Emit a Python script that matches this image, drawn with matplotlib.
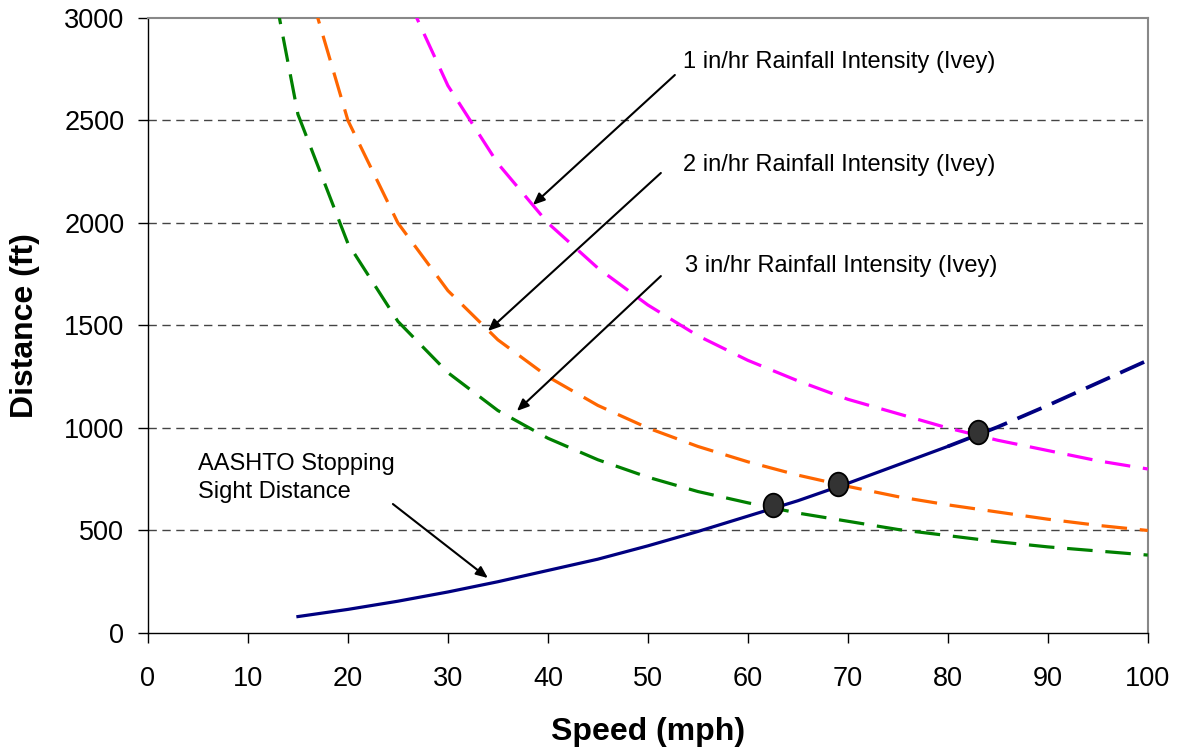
import matplotlib
matplotlib.use("Agg")
import matplotlib.pyplot as plt
from matplotlib.path import Path
from matplotlib.transforms import Affine2D

plt.rcParams["font.family"] = ["Liberation Sans", "DejaVu Sans"]

# Ivey hydroplaning distances, ft
SPEED_3IN = [10, 15, 20, 25, 30, 35, 40, 45, 50, 55, 60, 65, 70, 75, 80, 85, 90, 95, 100]
DIST_3IN = [3800, 2530, 1900, 1520, 1270, 1085, 950, 845, 760, 690, 635, 585, 545, 505, 475, 445, 420, 400, 380]

SPEED_2IN = [15, 20, 25, 30, 35, 40, 45, 50, 55, 60, 65, 70, 75, 80, 85, 90, 95, 100]
DIST_2IN = [3330, 2500, 2000, 1670, 1430, 1250, 1110, 1000, 910, 835, 770, 715, 665, 625, 590, 555, 525, 500]

SPEED_1IN = [25, 30, 35, 40, 45, 50, 55, 60, 65, 70, 75, 80, 85, 90, 95, 100]
DIST_1IN = [3200, 2670, 2290, 2000, 1780, 1600, 1450, 1330, 1230, 1140, 1070, 1000, 940, 890, 840, 800]

# AASHTO stopping sight distance (solid part, then extrapolated dashed part)
SSD_SPEED = [15, 20, 25, 30, 35, 40, 45, 50, 55, 60, 65, 70, 75, 80]
SSD_DIST = [80, 115, 155, 200, 250, 305, 360, 425, 495, 570, 645, 730, 820, 910]
SSD_EXT_SPEED = [80, 85, 90, 95, 100]
SSD_EXT_DIST = [910, 1005, 1110, 1220, 1330]

# intersection points
CROSS_SPEED = [62.5, 69, 83]
CROSS_DIST = [625, 725, 980]

fig = plt.figure(figsize=(11.79, 7.53), dpi=100)
ax = fig.add_axes([0.1255, 0.1594, 0.848, 0.8167])

for y in [500, 1000, 1500, 2000, 2500]:
    ax.axhline(y, color="#444444", lw=1.0, dashes=(6, 4), zorder=1)

lw = 2.3
ax.plot(SPEED_1IN, DIST_1IN, color="#ff00ff", lw=lw, dashes=(8, 4), zorder=3)
ax.plot(SPEED_2IN, DIST_2IN, color="#ff6600", lw=lw, dashes=(8, 4), zorder=3)
ax.plot(SPEED_3IN, DIST_3IN, color="#008000", lw=lw, dashes=(8, 4), zorder=3)
ax.plot(SSD_SPEED, SSD_DIST, color="#000080", lw=lw, zorder=4)
ax.plot(SSD_EXT_SPEED, SSD_EXT_DIST, color="#000080", lw=lw + 0.4, dashes=(7, 3), zorder=4)

# slightly tall ellipse marker
ellipse = Path.unit_circle().transformed(Affine2D().scale(1.0, 1.2))
ax.plot(CROSS_SPEED, CROSS_DIST, linestyle="none", marker=ellipse, markersize=17,
        markerfacecolor="#333333", markeredgecolor="black", markeredgewidth=1.3, zorder=5)

arrow = dict(arrowstyle="-|>,head_length=0.7,head_width=0.3", color="black", lw=1.5,
             shrinkA=0, shrinkB=0)
txt = dict(fontsize=17, color="black", va="center", ha="left")

ax.annotate("", xy=(38.5, 2088), xytext=(52.7, 2722), arrowprops=arrow)
ax.text(53.5, 2785, "1 in/hr Rainfall Intensity (Ivey)", **txt)
ax.annotate("", xy=(34.0, 1473), xytext=(51.3, 2244), arrowprops=arrow)
ax.text(53.5, 2283, "2 in/hr Rainfall Intensity (Ivey)", **txt)
ax.annotate("", xy=(36.9, 1083), xytext=(51.3, 1741), arrowprops=arrow)
ax.text(53.7, 1790, "3 in/hr Rainfall Intensity (Ivey)", **txt)
ax.annotate("", xy=(34.0, 268), xytext=(24.5, 629), arrowprops=arrow)
ax.text(5.0, 756, "AASHTO Stopping\nSight Distance", linespacing=1.35, **txt)

ax.set_xlim(0, 100)
ax.set_ylim(0, 3000)
ax.set_xticks(range(0, 101, 10))
ax.set_yticks(range(0, 3001, 500))
ax.tick_params(direction="out", length=7, width=1, labelsize=19.5)
ax.tick_params(axis="y", pad=10)
ax.tick_params(axis="x", pad=17)
ax.set_xlabel("Speed (mph)", fontsize=23, fontweight="bold", labelpad=18)
ax.set_ylabel("Distance (ft)", fontsize=23, fontweight="bold", labelpad=17)

for s in ["top", "right"]:
    ax.spines[s].set_color("#888888")
    ax.spines[s].set_linewidth(1.5)
for s in ["left", "bottom"]:
    ax.spines[s].set_color("black")
    ax.spines[s].set_linewidth(1.0)

fig.savefig("out.png", dpi=100)
